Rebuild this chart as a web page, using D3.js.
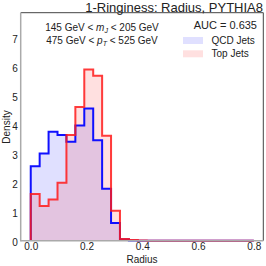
<!DOCTYPE html>
<html><head><meta charset="utf-8">
<script src="https://cdn.jsdelivr.net/npm/d3@7"></script>
<style>body{margin:0;background:#fff}svg{display:block}text{font-family:"Liberation Sans",Arial,sans-serif;fill:#222}</style>
</head><body>
<script>
const binEdges = [0.000,0.032,0.064,0.096,0.128,0.160,0.192,0.224,0.256,0.288,0.320,0.352,0.384,0.416,0.448,0.480,0.512,0.544,0.576,0.608,0.640,0.672,0.704,0.736,0.768,0.800];
const qcdDensity = [2.57,3.01,3.76,3.64,3.41,3.97,4.56,3.46,1.79,0.61,0.05,0.01,0,0,0,0,0,0,0,0,0,0,0,0,0];
const topDensity = [1.61,1.20,1.42,2.00,3.64,4.61,5.90,5.69,3.62,1.03,0.06,0.02,0.005,0,0,0,0,0,0,0,0,0,0,0,0];
const xTicks = [0.0,0.2,0.4,0.6,0.8];
const yTicks = [0,1,2,3,4,5,6,7];
const titleText = "1-Ringiness: Radius, PYTHIA8";
const aucText = "AUC = 0.635";
const legendLabels = ["QCD Jets","Top Jets"];

const W=266,H=266;
const L=20.7,R=263.3,T=12.7,B=240.7;
const svg=d3.select("body").append("svg").attr("width",W).attr("height",H);
const x=d3.scaleLinear().domain([-0.036,0.834]).range([L,R]);
const y=d3.scaleLinear().domain([0,7.86]).range([B,T]);

function stepPath(vals){
  const pts=[[binEdges[0],0]];
  vals.forEach((v,i)=>{pts.push([binEdges[i],v]);pts.push([binEdges[i+1],v]);});
  pts.push([binEdges[binEdges.length-1],0]);
  return d3.line().x(d=>x(d[0])).y(d=>y(d[1]))(pts);
}
const series=[
  {vals:qcdDensity,fill:"rgba(0,0,255,0.12)",stroke:"#1010ff",op:1},
  {vals:topDensity,fill:"rgba(255,0,0,0.12)",stroke:"#ff1a1a",op:0.85}
];
series.forEach(s=>{
  svg.append("path").attr("d",stepPath(s.vals)+"Z").attr("fill",s.fill).attr("stroke","none");
});
series.forEach(s=>{
  svg.append("path").attr("d",stepPath(s.vals)).attr("fill","none").attr("stroke",s.stroke)
    .attr("stroke-width",2).attr("stroke-opacity",s.op).attr("stroke-linejoin","miter");
});

// spines
svg.append("line").attr("x1",L).attr("x2",R).attr("y1",T).attr("y2",T).attr("stroke","#444").attr("stroke-width",1);
svg.append("line").attr("x1",R).attr("x2",R).attr("y1",T).attr("y2",B).attr("stroke","#444").attr("stroke-width",1);
svg.append("line").attr("x1",L).attr("x2",L).attr("y1",T).attr("y2",B+0.75).attr("stroke","#aaa").attr("stroke-width",1.5);
svg.append("line").attr("x1",L).attr("x2",R).attr("y1",B).attr("y2",B).attr("stroke","#aaa").attr("stroke-width",1.5);

// axes via d3
const xAxis=svg.append("g").attr("transform",`translate(0,${B})`)
  .call(d3.axisBottom(x).tickValues(xTicks).tickFormat(d3.format(".1f")).tickSize(0).tickPadding(2));
const yAxis=svg.append("g").attr("transform",`translate(${L},0)`)
  .call(d3.axisLeft(y).tickValues(yTicks).tickFormat(d3.format("d")).tickSize(0).tickPadding(3));
[xAxis,yAxis].forEach(g=>{g.select(".domain").remove();g.selectAll("text").attr("font-size",10).attr("font-family","Liberation Sans, Arial, sans-serif").attr("fill","#222");});
yAxis.selectAll("text").attr("dy","0.45em");

svg.append("text").attr("x",142).attr("y",262.5).attr("text-anchor","middle").attr("font-size",10).text("Radius");
svg.append("text").attr("transform","translate(10,127) rotate(-90)").attr("text-anchor","middle").attr("font-size",10).text("Density");
svg.append("text").attr("x",263).attr("y",11.5).attr("text-anchor","end").attr("font-size",13).text(titleText);

// cut text
const t1=svg.append("text").attr("x",102).attr("y",31).attr("text-anchor","middle").attr("font-size",10);
t1.append("tspan").text("145 GeV < ");
t1.append("tspan").attr("font-style","italic").text("m");
t1.append("tspan").attr("font-style","italic").attr("font-size",7).attr("dy",2).text("J");
t1.append("tspan").attr("dy",-2).text(" < 205 GeV");
const t2=svg.append("text").attr("x",102).attr("y",44).attr("text-anchor","middle").attr("font-size",10);
t2.append("tspan").text("475 GeV < ");
t2.append("tspan").attr("font-style","italic").text("p");
t2.append("tspan").attr("font-style","italic").attr("font-size",7).attr("dy",2).text("T");
t2.append("tspan").attr("dy",-2).text(" < 525 GeV");

// legend
svg.append("text").attr("x",257).attr("y",28.5).attr("text-anchor","end").attr("font-size",11).text(aucText);
const legFill=["rgba(0,0,255,0.12)","rgba(255,0,0,0.12)"];
legendLabels.forEach((lab,i)=>{
  const cy=40.5+i*13.3;
  svg.append("rect").attr("x",183).attr("y",cy-3.5).attr("width",20).attr("height",7).attr("fill",legFill[i]);
  svg.append("text").attr("x",211.5).attr("y",cy+3.6).attr("font-size",10).text(lab);
});
</script>
</body></html>
